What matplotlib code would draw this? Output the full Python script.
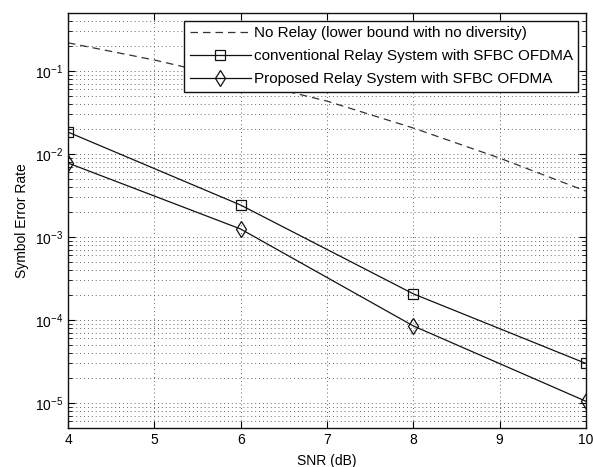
import matplotlib
matplotlib.use("Agg")
import matplotlib.pyplot as plt
from matplotlib.ticker import LogLocator, FixedLocator, NullFormatter

plt.rcParams['font.family'] = ['Liberation Sans', 'DejaVu Sans']

snr_norelay = [4, 5, 6, 7, 8, 9, 10]
ser_norelay = [0.219, 0.136, 0.078, 0.0435, 0.0206, 0.00895, 0.00358]

snr = [4, 6, 8, 10]
ser_conv = [0.0184, 0.00243, 2.07e-4, 3.0e-5]
ser_prop = [0.0078, 1.25e-3, 8.5e-5, 1.05e-5]

labels = ['No Relay (lower bound with no diversity)',
          'conventional Relay System with SFBC OFDMA',
          'Proposed Relay System with SFBC OFDMA']
xticks = [4, 5, 6, 7, 8, 9, 10]

fig = plt.figure(figsize=(5.93, 4.67), dpi=100)
ax = fig.add_axes([0.1147, 0.0835, 0.8733, 0.8885])

ax.semilogy(snr_norelay, ser_norelay, linestyle=(0, (6, 4)), color='#333333', lw=0.9, label=labels[0])
ax.semilogy(snr, ser_conv, '-s', color='#111111', lw=0.9, ms=7.5, mfc='none', mew=0.9, label=labels[1])
ax.semilogy(snr, ser_prop, '-d', color='#111111', lw=0.9, ms=8.5, mfc='none', mew=0.9, label=labels[2])

ax.set_xlim(4, 10)
ax.set_ylim(5e-6, 0.5)
ax.xaxis.set_major_locator(FixedLocator(xticks))
ax.yaxis.set_major_locator(LogLocator(base=10, numticks=10))
ax.yaxis.set_minor_locator(LogLocator(base=10, subs=range(2, 10), numticks=10))
ax.yaxis.set_minor_formatter(NullFormatter())

gstyle = dict(linestyle=(0, (1, 3)), color='#666666', lw=0.7)
ax.grid(True, which='major', **gstyle)
ax.grid(True, which='minor', axis='y', **gstyle)
ax.tick_params(which='both', direction='in', top=True, right=True, labelsize=10)
ax.tick_params(which='major', length=5)
ax.tick_params(which='minor', length=3)
for s in ax.spines.values():
    s.set_linewidth(1.0)
    s.set_color('#111111')

ax.set_xlabel('SNR (dB)', fontsize=10, labelpad=5)
ax.set_ylabel('Symbol Error Rate', fontsize=10, labelpad=4)

leg = ax.legend(loc='upper right', fontsize=11, fancybox=False, framealpha=1,
                edgecolor='#111111', handlelength=4.0, borderpad=0.35,
                labelspacing=0.6, handletextpad=0.2, borderaxespad=0.5)
leg.get_frame().set_linewidth(1.0)

fig.savefig('out.png', dpi=100)
